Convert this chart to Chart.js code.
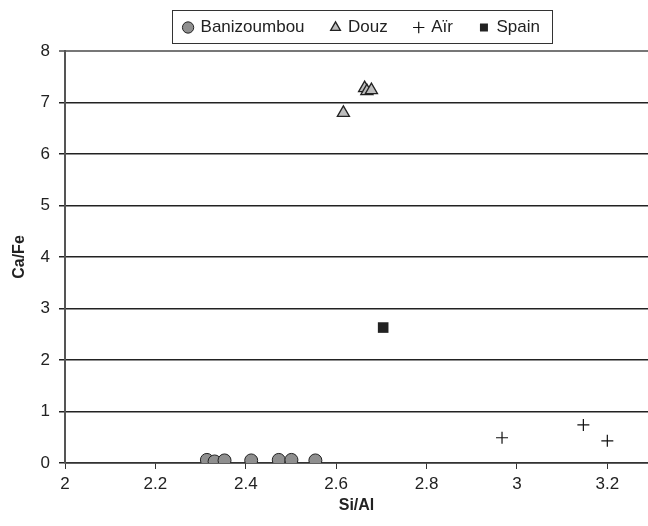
<!DOCTYPE html>
<html>
<head>
<meta charset="utf-8">
<script src="https://cdn.jsdelivr.net/npm/chart.js@4.4.0/dist/chart.umd.min.js"></script>
<style>
  html, body { margin: 0; padding: 0; background: #fff; }
  #wrap { width: 648px; height: 526px; }
</style>
</head>
<body>
<div id="wrap"><canvas id="scatter" width="648" height="526"></canvas></div>
<script>
// values
var banX = [2.314, 2.331, 2.353, 2.412, 2.473, 2.501, 2.554];
var banY = [0.06, 0.03, 0.05, 0.05, 0.06, 0.06, 0.05];
var douzX = [2.616, 2.663, 2.668, 2.678];
var douzY = [6.80, 7.28, 7.22, 7.24];
var airX = [2.967, 3.147, 3.200];
var airY = [0.49, 0.74, 0.43];
var spainX = [2.704];
var spainY = [2.63];
var xTicks = [2, 2.2, 2.4, 2.6, 2.8, 3, 3.2];
var yTicks = [0, 1, 2, 3, 4, 5, 6, 7, 8];

function pts(xs, ys) {
    return xs.map(function (x, i) { return { x: x, y: ys[i] }; });
}

// fixed legend height, shifted right, with a border like the original
var legendBox = {
    id: 'legendBox',
    beforeUpdate: function (chart) {
        var lg = chart.legend;
        if (lg && !lg._fixed) {
            var fit = lg.fit;
            lg.fit = function () {
                fit.call(this);
                this.height = 59;
            };
            lg._fixed = true;
        }
    },
    afterLayout: function (chart) {
        chart.legend.left += 38;
        chart.legend.right += 38;
    },
    afterDraw: function (chart) {
        var boxes = chart.legend.legendHitBoxes;
        if (!boxes || !boxes.length) return;
        var first = boxes[0], last = boxes[boxes.length - 1];
        var left = Math.round(first.left) - 11.5;
        var right = Math.round(last.left + last.width) + 12.5;
        var ctx = chart.ctx;
        ctx.save();
        ctx.strokeStyle = '#333';
        ctx.lineWidth = 1;
        ctx.strokeRect(left, 10.5, right - left, 33);
        ctx.restore();
    }
};

document.addEventListener('DOMContentLoaded', function () {
    Chart.defaults.font.family = '"Liberation Sans", Arial, sans-serif';
    Chart.defaults.color = '#222';

    var ctx = document.getElementById('scatter').getContext('2d');
    var chart = new Chart(ctx, {
        type: 'scatter',
        data: {
            datasets: [{
                label: 'Banizoumbou',
                data: pts(banX, banY),
                pointStyle: 'circle',
                pointRadius: 6.5,
                backgroundColor: '#8f8f8f',
                borderColor: '#222',
                borderWidth: 1
            }, {
                label: 'Douz',
                data: pts(douzX, douzY),
                pointStyle: 'triangle',
                pointRadius: 7,
                backgroundColor: '#bdbdbd',
                borderColor: '#222',
                borderWidth: 1.3
            }, {
                label: 'A\u00efr',
                data: pts(airX, airY),
                pointStyle: 'cross',
                pointRadius: 6,
                backgroundColor: '#111',
                borderColor: '#111',
                borderWidth: 1.2
            }, {
                label: 'Spain',
                data: pts(spainX, spainY),
                pointStyle: 'rect',
                pointRadius: 7.5,
                backgroundColor: '#222',
                borderColor: '#222',
                borderWidth: 0
            }]
        },
        options: {
            responsive: false,
            animation: false,
            layout: { autoPadding: false, padding: { top: -8, left: 0, right: 0, bottom: 0 } },
            scales: {
                x: {
                    type: 'linear',
                    min: 2,
                    max: 3.29,
                    afterFit: function (scale) {
                        scale.height = 63;
                        scale.paddingRight = 0;
                        scale.paddingLeft = 0;
                    },
                    afterBuildTicks: function (scale) {
                        scale.ticks = xTicks.map(function (v) { return { value: v }; });
                    },
                    ticks: {
                        font: { size: 17 },
                        padding: 5,
                        maxRotation: 0,
                        callback: function (v) { return String(Math.round(v * 10) / 10); }
                    },
                    grid: {
                        drawOnChartArea: false,
                        drawTicks: true,
                        tickLength: 6,
                        color: '#333'
                    },
                    border: { color: '#333', width: 1.5 },
                    title: {
                        display: true,
                        text: 'Si/Al',
                        font: { size: 16, weight: 'bold' },
                        padding: { top: 4, bottom: 11 }
                    }
                },
                y: {
                    min: 0,
                    max: 8,
                    afterFit: function (scale) { scale.width = 65; },
                    afterBuildTicks: function (scale) {
                        scale.ticks = yTicks.map(function (v) { return { value: v }; });
                    },
                    ticks: { font: { size: 17 }, padding: 9 },
                    grid: {
                        drawTicks: true,
                        tickLength: 6,
                        lineWidth: function (c) { return c.tick && c.tick.value === 8 ? 2 : 1.5; },
                        color: function (c) { return c.tick && c.tick.value === 8 ? '#777' : '#222'; }
                    },
                    border: { color: '#555', width: 2 },
                    title: {
                        display: true,
                        text: 'Ca/Fe',
                        font: { size: 16, weight: 'bold' },
                        padding: { top: 10, bottom: 0 }
                    }
                }
            },
            plugins: {
                tooltip: { enabled: false },
                legend: {
                    position: 'top',
                    labels: {
                        usePointStyle: true,
                        boxWidth: 8,
                        boxHeight: 8,
                        padding: 27,
                        color: '#222',
                        font: { size: 17 }
                    }
                }
            }
        },
        plugins: [legendBox]
    });
});
</script>
</body>
</html>
